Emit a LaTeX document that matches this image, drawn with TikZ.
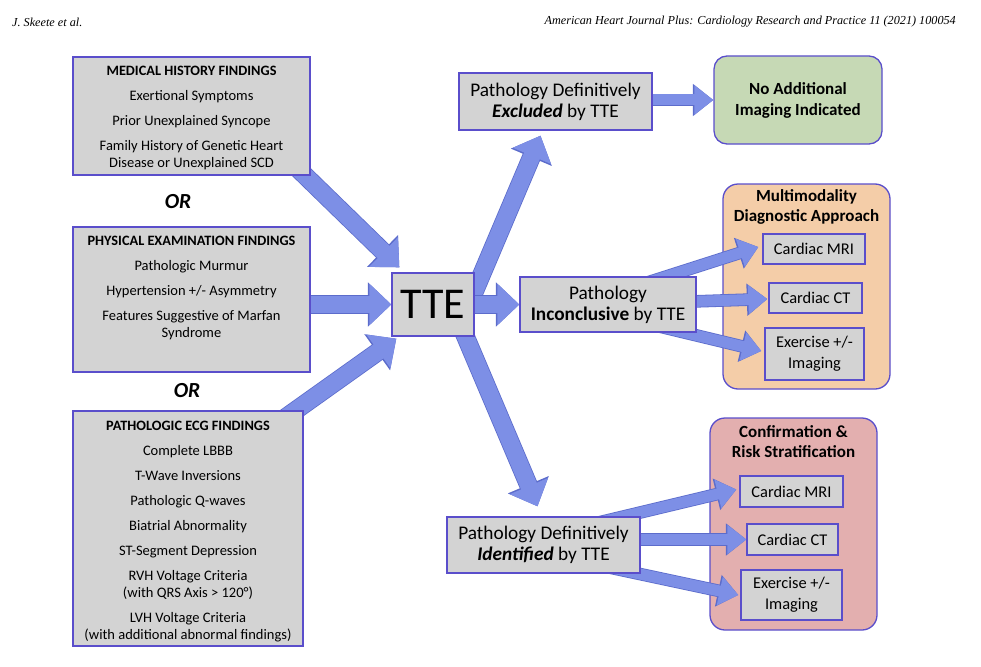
\documentclass[tikz,border=0pt]{standalone}
\usepackage{fontspec}
\setmainfont{Carlito}
\newfontfamily\headfont{Liberation Serif}
\usetikzlibrary{arrows.meta,calc}

\pgfdeclarelayer{back}
\pgfdeclarelayer{arr}
\pgfsetlayers{back,arr,main}

\definecolor{boxgrey}{HTML}{D3D3D3}
\definecolor{boxedge}{HTML}{5A4ECB}
\definecolor{greenfill}{HTML}{C6D9B5}
\definecolor{peachfill}{HTML}{F4CDA8}
\definecolor{pinkfill}{HTML}{E3AFAF}
\definecolor{arrfill}{HTML}{7D8FE6}
\definecolor{arredge}{HTML}{5C6CCB}

\newcommand\findtitle[1]{{\fontsize{14.3}{17}\selectfont\bfseries #1}}

\tikzset{
  headtext/.style={font=\headfont\itshape\fontsize{12.2}{14}\selectfont, inner sep=0pt},
  findbox/.style={draw=boxedge, fill=boxgrey, line width=1.3pt, minimum width=237, inner sep=0pt},
  findtext/.style={align=center, anchor=north, inner sep=0pt, font=\fontsize{14.5}{17}\selectfont},
  ortext/.style={font=\fontsize{21.5}{24}\selectfont\bfseries\itshape, inner sep=0pt},
  ttebox/.style={draw=boxedge, fill=boxgrey, line width=1.3pt, minimum width=82, minimum height=63,
    inner sep=0pt, font=\fontsize{44}{50}\selectfont},
  resbox/.style={draw=boxedge, fill=boxgrey, line width=1.3pt, align=center, inner sep=0pt,
    font=\fontsize{19.3}{21}\selectfont},
  greenbox/.style={draw=boxedge, fill=greenfill, line width=1.3pt, rounded corners=13pt, align=center,
    minimum width=168, minimum height=88, font=\fontsize{17}{21}\selectfont\bfseries},
  groupbox/.style={draw=boxedge, line width=1.3pt, rounded corners=15pt, minimum width=167, inner sep=0pt},
  grouptitle/.style={align=center, anchor=north, inner sep=0pt, font=\fontsize{17}{20}\selectfont\bfseries},
  subbox/.style={draw=boxedge, fill=boxgrey, line width=1.3pt, align=center, inner sep=0pt,
    font=\fontsize{16.4}{21}\selectfont},
  bigarrow/.style={draw=arrfill, line width=17pt, -{Triangle[length=22pt,width=40pt]},
    preaction={draw=arredge, line width=18.6pt, -{Triangle[length=23.5pt,width=43pt]}}},
  smallarrow/.style={draw=arrfill, line width=11pt, -{Triangle[length=19pt,width=28pt]},
    preaction={draw=arredge, line width=12.6pt, -{Triangle[length=20.5pt,width=31pt]}}}
}

\begin{document}
\begin{tikzpicture}[x=1pt,y=-1pt]
\useasboundingbox (0,0) rectangle (981,666);

% page header
\node[headtext, anchor=west] (author) at (12,22) {J. Skeete et al.};
\node[headtext, anchor=east] (journal) at (956,22) {American Heart Journal Plus: Cardiology Research and Practice 11 (2021) 100054};

% findings on the left
\node[findbox, minimum height=118] (hist) at (191.5,116) {};
\node[findtext] (histtxt) at ($(hist.north)+(0,10)$) {\findtitle{MEDICAL HISTORY FINDINGS}\\[8pt]
  Exertional Symptoms\\[8pt] Prior Unexplained Syncope\\[8pt]
  Family History of Genetic Heart\\ Disease or Unexplained SCD};
\node[ortext] (or1) at (178,202) {OR};

\node[findbox, minimum height=145] (phys) at (191.5,299.5) {};
\node[findtext] (phystxt) at ($(phys.north)+(0,10)$) {\findtitle{PHYSICAL EXAMINATION FINDINGS}\\[8pt]
  Pathologic Murmur\\[8pt] Hypertension +/- Asymmetry\\[8pt]
  Features Suggestive of Marfan\\ Syndrome};
\node[ortext] (or2) at (187,391) {OR};

\node[findbox, minimum width=230, minimum height=235] (ecg) at (188,528.5) {};
\node[findtext] (ecgtxt) at ($(ecg.north)+(0,11)$) {\findtitle{PATHOLOGIC ECG FINDINGS}\\[8pt]
  Complete LBBB\\[8pt] T-Wave Inversions\\[8pt] Pathologic Q-waves\\[8pt]
  Biatrial Abnormality\\[8pt] ST-Segment Depression\\[8pt]
  RVH Voltage Criteria\\ (with QRS Axis > 120°)\\[8pt]
  LVH Voltage Criteria\\ (with additional abnormal findings)};

% TTE and its outcomes
\node[ttebox] (tte) at (433,304.5) {TTE};
\node[resbox, minimum width=193, minimum height=57] (excl) at (555.5,101.5)
  {Pathology Definitively\\\textbf{\textit{Excluded}} by TTE};
\node[resbox, minimum width=176, minimum height=55] (incon) at (608,304.5)
  {Pathology\\\textbf{Inconclusive} by TTE};
\node[resbox, minimum width=193, minimum height=56] (ident) at (543.5,545)
  {Pathology Definitively\\\textbf{\textit{Identified}} by TTE};
\node[greenbox] (noimg) at (798,100) {No Additional\\Imaging Indicated};

% groups of further imaging
\begin{pgfonlayer}{back}
\node[groupbox, fill=peachfill, minimum height=205] (multi) at (806.5,286.5) {};
\node[groupbox, fill=pinkfill, minimum height=212] (confirm) at (793.5,524) {};
\end{pgfonlayer}
\node[grouptitle] (multitxt) at ($(multi.north)+(0,6)$) {Multimodality\\Diagnostic Approach};
\node[grouptitle] (confirmtxt) at ($(confirm.north)+(0,8)$) {Confirmation \&\\Risk Stratification};

\node[subbox, minimum width=102, minimum height=30] (mmmri) at (814,249) {Cardiac MRI};
\node[subbox, minimum width=93, minimum height=30] (mmct) at (815.5,298) {Cardiac CT};
\node[subbox, minimum width=99, minimum height=52] (mmex) at (814.5,354) {Exercise +/-\\Imaging};

\node[subbox, minimum width=103, minimum height=31] (cfmri) at (791.5,491.5) {Cardiac MRI};
\node[subbox, minimum width=91, minimum height=31] (cfct) at (792.5,539.5) {Cardiac CT};
\node[subbox, minimum width=101, minimum height=50] (cfex) at (791.5,595) {Exercise +/-\\Imaging};

% arrows
\begin{pgfonlayer}{arr}
\draw[bigarrow] ($(hist.south east)+(-22,-16)$) -- ($(tte.north west)+(8,-5)$);
\draw[bigarrow] (phys.east |- tte.west) -- (tte.west);
\draw[bigarrow] ($(ecg.north east)+(-22,10)$) -- ($(tte.south west)+(5,2)$);
\draw[bigarrow] ($(tte.east)+(-4,-4)$) -- ($(excl.south)+(-15,5)$);
\draw[bigarrow] (tte.east) -- (incon.west);
\draw[bigarrow] ($(tte.south east)+(-18,-21)$) -- ($(ident.north)+(-6,-10)$);
\draw[smallarrow] (excl.east |- noimg.west) -- (noimg.west);

\draw[smallarrow] ($(incon.north east)+(-55,8)$) -- ($(mmmri.west)+(-4,-2)$);
\draw[smallarrow] ($(incon.east)+(-5,-3)$) -- ($(mmct.west)+(-1,1)$);
\draw[smallarrow] ($(incon.south east)+(-45,-8)$) -- ($(mmex.west)+(-3,-3)$);

\draw[smallarrow] ($(ident.north east)+(-50,8)$) -- ($(cfmri.west)+(-3,-2)$);
\draw[smallarrow] (ident.east |- cfct.west) -- (cfct.west);
\draw[smallarrow] ($(ident.south east)+(-40,-8)$) -- ($(cfex.west)+(-2,0)$);
\end{pgfonlayer}
\end{tikzpicture}
\end{document}
